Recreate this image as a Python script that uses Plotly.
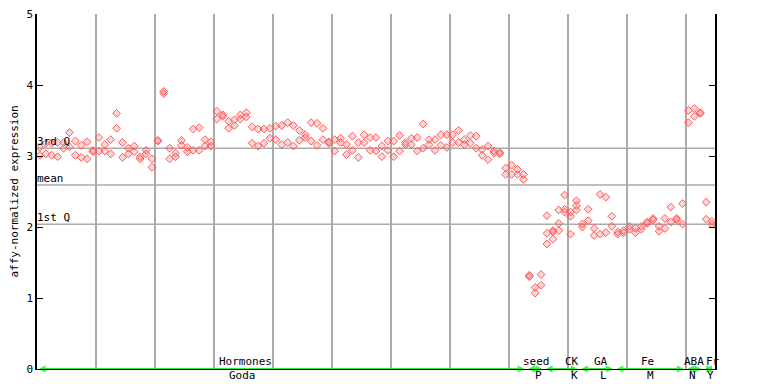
import plotly.graph_objects as go

# ---- data: expression values per sample (up to three replicate points each) ----
rep_a = [3.12, 3.18, 3.18, 3.19, 3.19, 3.33, 3.21, 3.15, 3.20, 3.08,
         3.26, 3.16, 3.23, 3.60, 3.19, 3.11, 3.14, 2.99, 3.08, 2.96,
         3.22, 3.91, 3.11, 3.04, 3.22, 3.12, 3.38, 3.40, 3.23, 3.20,
         3.63, 3.58, 3.49, 3.51, 3.58, 3.61, 3.41, 3.38, 3.38, 3.39,
         3.42, 3.43, 3.47, 3.43, 3.36, 3.30, 3.47, 3.46, 3.39, 3.20,
         3.23, 3.25, 3.16, 3.28, 3.19, 3.30, 3.26, 3.26, 3.14, 3.21,
         3.21, 3.29, 3.19, 3.25, 3.26, 3.45, 3.23, 3.23, 3.30, 3.30,
         3.30, 3.36, 3.23, 3.29, 3.28, 3.09, 3.14, 3.07, 3.05, 2.83,
         2.87, 2.81, 2.74, 1.32, 1.15, 1.33, 2.16, 1.95, 2.24, 2.45,
         2.21, 2.37, 2.04, 2.25, 1.98, 2.46, 2.42, 2.15, 1.93, 1.95,
         2.01, 1.98, 2.01, 2.07, 2.12, 2.01, 2.12, 2.28, 2.12, 2.33,
         3.64, 3.67, 3.61, 2.35, 2.08]
rep_b = [3.01, 3.03, 3.01, 2.99, 3.11, 3.13, 3.01, 2.98, 2.96, 3.06,
         3.07, 3.07, 3.03, 3.39, 2.98, 3.03, 3.06, 2.96, 3.03, 2.84,
         3.21, 3.88, 2.96, 2.99, 3.15, 3.06, 3.08, 3.08, 3.14, 3.14,
         3.52, 3.56, 3.39, 3.43, 3.52, 3.55, 3.18, 3.14, 3.18, 3.25,
         3.23, 3.16, 3.19, 3.14, 3.22, 3.26, 3.21, 3.15, 3.23, 3.18,
         3.07, 3.19, 3.02, 3.08, 2.98, 3.19, 3.08, 3.07, 2.99, 3.08,
         2.99, 3.07, 3.16, 3.16, 3.07, 3.11, 3.16, 3.08, 3.15, 3.12,
         3.19, 3.19, 3.16, 3.18, 3.11, 3.01, 2.95, 3.04, 3.03, 2.74,
         2.74, 2.74, 2.67, 1.30, 1.07, 1.18, 1.91, 1.93, 2.05, 2.25,
         2.15, 2.30, 2.00, 2.09, 1.88, 1.90, 1.92, 2.01, 1.90, 1.92,
         1.97, 1.92, 1.97, 2.05, 2.10, 1.94, 1.98, 2.07, 2.10, 2.04,
         3.47, 3.56, 3.60, 2.11, 2.04]
rep_c = {86: 1.76, 87: 1.83, 88: 1.95, 89: 2.21, 90: 1.90, 91: 2.24}

# summary statistics
q3_value = 3.11
mean_value = 2.59
q1_value = 2.04

# experiment categories: (upper label, lower label, first sample, last sample)
cat_names = ["Hormones", "seed", "CK", "GA", "Fe", "ABA", "Fr"]
cat_codes = ["Goda", "P", "K", "L", "M", "N", "Y"]
cat_start = [0, 83, 86, 92, 98, 110, 113]
cat_end = [82, 85, 91, 97, 109, 112, 114]

y_ticks = [0, 1, 2, 3, 4, 5]

# ---- layout helpers (label placement, not data) ----
name_pos = [35.3, 84.7, 90.7, 95.7, 103.6, 111.5, 114.6]
code_pos = [34.9, 85.1, 91.1, 96.1, 104.0, 111.1, 114.2]

FONT = "DejaVu Sans Mono"
RED = "#ff5a5a"
GREEN = "#33ee33"
GRAY = "#aaaaaa"

xs, ys = [], []
for i, (a, b) in enumerate(zip(rep_a, rep_b)):
    xs += [i + 0.5, i + 0.5]
    ys += [a, b]
    if i in rep_c:
        xs.append(i + 0.5)
        ys.append(rep_c[i])

n_samples = len(rep_a)

fig = go.Figure()

# category bars along the baseline
for s, e in zip(cat_start, cat_end):
    fig.add_trace(go.Scatter(
        x=[s + 0.5, e + 0.5], y=[0, 0], mode="lines+markers",
        line=dict(color=GREEN, width=2),
        marker=dict(symbol=["arrow-left-open", "arrow-right-open"], size=5,
                    color=GREEN, line=dict(color=GREEN, width=1.2)),
        cliponaxis=False, showlegend=False, hoverinfo="skip"))

fig.add_trace(go.Scatter(
    x=xs, y=ys, mode="markers",
    marker=dict(symbol="diamond", size=6, color="rgba(255,90,90,0.25)",
                line=dict(color=RED, width=1)),
    showlegend=False))

shapes = []
for v in (q3_value, mean_value, q1_value):
    shapes.append(dict(type="line", xref="x", yref="y", x0=0, x1=n_samples,
                       y0=v, y1=v, line=dict(color=GRAY, width=1.5), layer="below"))

annotations = []
for txt, v in (("3rd Q", q3_value), ("mean", mean_value), ("1st Q", q1_value)):
    annotations.append(dict(x=0, y=v, xref="x", yref="y", text=txt, showarrow=False,
                            xanchor="left", yanchor="bottom", xshift=-2, yshift=-2,
                            font=dict(family=FONT, size=11, color="black")))
for nm, cd, xn, xc in zip(cat_names, cat_codes, name_pos, code_pos):
    annotations.append(dict(x=xn, y=0, xref="x", yref="y", text=nm, showarrow=False,
                            xanchor="center", yanchor="bottom", yshift=-1,
                            font=dict(family=FONT, size=11, color="black")))
    annotations.append(dict(x=xc, y=0, xref="x", yref="y", text=cd, showarrow=False,
                            xanchor="center", yanchor="top", yshift=2,
                            font=dict(family=FONT, size=11, color="black")))
annotations.append(dict(x=0, y=0.5, xref="paper", yref="paper",
                        text="affy-normalized expression", showarrow=False,
                        textangle=-90, xshift=-23, xanchor="center", yanchor="middle",
                        font=dict(family=FONT, size=11, color="black")))

# the page places the figure 8px from the top-left corner
fig.update_layout(
    width=760, height=376,
    margin=dict(l=29, r=53, t=6, b=15, autoexpand=False),
    paper_bgcolor="white", plot_bgcolor="white",
    font=dict(family=FONT, size=11, color="black"),
    shapes=shapes, annotations=annotations,
    xaxis=dict(range=[0, n_samples], showgrid=True, gridcolor=GRAY, gridwidth=1.5,
               tick0=0, dtick=10, showticklabels=False, ticks="", automargin=False,
               showline=True, linecolor="black", linewidth=1, zeroline=False),
    yaxis=dict(range=[0, 5], tickvals=y_ticks, ticks="inside", ticklen=6,
               tickcolor="black", showline=True, linecolor="black", linewidth=1.5,
               mirror="ticks", showgrid=False, zeroline=False, automargin=False,
               ticklabeloverflow="allow",
               tickfont=dict(family=FONT, size=11)),
)

fig.write_html("out.html")
